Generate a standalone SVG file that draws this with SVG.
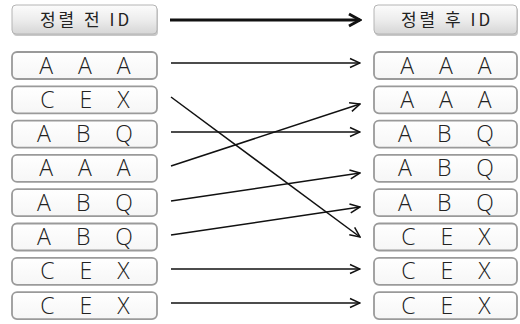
<svg xmlns="http://www.w3.org/2000/svg" width="520" height="324" viewBox="0 0 520 324">
  <defs>
    <linearGradient id="hdrFill" x1="0" y1="0" x2="0" y2="1">
      <stop offset="0" stop-color="#fcfcfc"/>
      <stop offset="0.5" stop-color="#ededed"/>
      <stop offset="1" stop-color="#d6d6d6"/>
    </linearGradient>
    <linearGradient id="rowFill" x1="0" y1="0" x2="0" y2="1">
      <stop offset="0" stop-color="#ffffff"/>
      <stop offset="1" stop-color="#f6f6f6"/>
    </linearGradient>
    <marker id="open" viewBox="0 0 12 12" refX="11" refY="6" markerWidth="12" markerHeight="12" markerUnits="userSpaceOnUse" orient="auto">
      <path d="M1,1.5 L11,6 L1,10.5" fill="none" stroke="#111" stroke-width="1.5" stroke-linejoin="miter"/>
    </marker>
    <marker id="bold" viewBox="0 0 16 16" refX="14" refY="8" markerWidth="16" markerHeight="16" markerUnits="userSpaceOnUse" orient="auto">
      <path d="M3,2 L14,8 L3,14" fill="none" stroke="#111" stroke-width="3" stroke-linejoin="miter"/>
    </marker>
  </defs>
  <style>
    .hdr rect.sh { fill: #c8c8c8; }
    .hdr rect.bx { fill: url(#hdrFill); stroke: #b4b4b4; stroke-width: 1; }
    .hdr text { font-family: "Noto Sans CJK KR", "Noto Sans", sans-serif; font-size: 17px; fill: #222; letter-spacing: 3px; text-anchor: middle; }
    .row rect.bx { fill: url(#rowFill); stroke: #9a9a9a; stroke-width: 1.8; }
    .row text { font-family: "Open Sans", "Noto Sans", sans-serif; font-weight: 300; font-size: 23px; fill: #222; word-spacing: 19px; text-anchor: middle; }
    .conn line { stroke: #111; stroke-width: 1.5; marker-end: url(#open); }
    .conn line.main { stroke-width: 3; marker-end: url(#bold); }
  </style>

  <rect width="520" height="324" fill="#ffffff"/>

  <!-- column headers -->
  <g id="hdr-before" class="hdr">
    <rect class="sh" x="13" y="7" width="145" height="29" rx="4"/>
    <rect class="bx" x="12" y="5" width="145" height="29" rx="4"/>
    <text x="86" y="26">정렬 전 ID</text>
  </g>
  <g id="hdr-after" class="hdr">
    <rect class="sh" x="375" y="7" width="143" height="29" rx="4"/>
    <rect class="bx" x="374" y="5" width="143" height="29" rx="4"/>
    <text x="447" y="26">정렬 후 ID</text>
  </g>

  <!-- IDs before sorting -->
  <g id="before-1" class="row"><rect class="bx" x="12" y="52" width="145" height="27" rx="5"/><text x="85" y="73.5">A A A</text></g>
  <g id="before-2" class="row"><rect class="bx" x="12" y="86.3" width="145" height="27" rx="5"/><text x="85" y="107.8">C E X</text></g>
  <g id="before-3" class="row"><rect class="bx" x="12" y="120.6" width="145" height="27" rx="5"/><text x="85" y="142.1">A B Q</text></g>
  <g id="before-4" class="row"><rect class="bx" x="12" y="154.9" width="145" height="27" rx="5"/><text x="85" y="176.4">A A A</text></g>
  <g id="before-5" class="row"><rect class="bx" x="12" y="189.2" width="145" height="27" rx="5"/><text x="85" y="210.7">A B Q</text></g>
  <g id="before-6" class="row"><rect class="bx" x="12" y="223.5" width="145" height="27" rx="5"/><text x="85" y="245">A B Q</text></g>
  <g id="before-7" class="row"><rect class="bx" x="12" y="257.8" width="145" height="27" rx="5"/><text x="85" y="279.3">C E X</text></g>
  <g id="before-8" class="row"><rect class="bx" x="12" y="292.1" width="145" height="27" rx="5"/><text x="85" y="313.6">C E X</text></g>

  <!-- IDs after sorting -->
  <g id="after-1" class="row"><rect class="bx" x="374" y="52" width="143" height="27" rx="5"/><text x="446" y="73.5">A A A</text></g>
  <g id="after-2" class="row"><rect class="bx" x="374" y="86.3" width="143" height="27" rx="5"/><text x="446" y="107.8">A A A</text></g>
  <g id="after-3" class="row"><rect class="bx" x="374" y="120.6" width="143" height="27" rx="5"/><text x="446" y="142.1">A B Q</text></g>
  <g id="after-4" class="row"><rect class="bx" x="374" y="154.9" width="143" height="27" rx="5"/><text x="446" y="176.4">A B Q</text></g>
  <g id="after-5" class="row"><rect class="bx" x="374" y="189.2" width="143" height="27" rx="5"/><text x="446" y="210.7">A B Q</text></g>
  <g id="after-6" class="row"><rect class="bx" x="374" y="223.5" width="143" height="27" rx="5"/><text x="446" y="245">C E X</text></g>
  <g id="after-7" class="row"><rect class="bx" x="374" y="257.8" width="143" height="27" rx="5"/><text x="446" y="279.3">C E X</text></g>
  <g id="after-8" class="row"><rect class="bx" x="374" y="292.1" width="143" height="27" rx="5"/><text x="446" y="313.6">C E X</text></g>

  <!-- connectors -->
  <g id="connectors" class="conn">
    <line class="main" x1="170" y1="20" x2="360" y2="20"/>
    <line x1="171" y1="63" x2="360" y2="63"/>
    <line x1="171" y1="97" x2="360" y2="237"/>
    <line x1="171" y1="132" x2="360" y2="132"/>
    <line x1="171" y1="166" x2="360" y2="104"/>
    <line x1="171" y1="201" x2="360" y2="173"/>
    <line x1="171" y1="235" x2="360" y2="207"/>
    <line x1="171" y1="269" x2="360" y2="269"/>
    <line x1="171" y1="303" x2="360" y2="303"/>
  </g>
</svg>
